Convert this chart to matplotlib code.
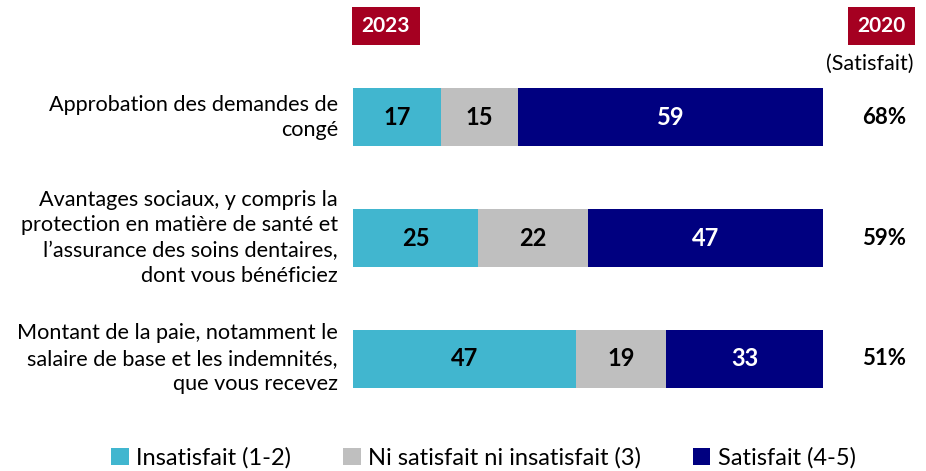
import matplotlib
matplotlib.use('Agg')
import matplotlib.pyplot as plt
from matplotlib.patches import Rectangle
import numpy as np

plt.rcParams['font.family'] = ['Lato', 'DejaVu Sans']

items = [
    'Approbation des demandes de\ncongé',
    'Avantages sociaux, y compris la\nprotection en matière de santé et\n'
    'l\u2019assurance des soins dentaires,\ndont vous bénéficiez',
    'Montant de la paie, notamment le\nsalaire de base et les indemnités,\n'
    'que vous recevez',
]
insatisfait = [17, 25, 47]
neutre = [15, 22, 19]
satisfait = [59, 47, 33]
satisfait_2020 = [68, 59, 51]
series_labels = ['Insatisfait (1-2)', 'Ni satisfait ni insatisfait (3)',
                 'Satisfait (4-5)']
colors = ['#41B6CF', '#BFBFBF', '#000080']
text_colors = ['black', 'black', 'white']

W, H = 926, 471
fig = plt.figure(figsize=(W / 100, H / 100), dpi=100)
ax = fig.add_axes([353 / W, (H - 419) / H, 470 / W, 362 / H])

values = np.array([insatisfait, neutre, satisfait], dtype=float)
totals = values.sum(axis=0)
shares = values / totals
y = np.arange(len(items))
left = np.zeros(len(items))
for k in range(3):
    ax.barh(y, shares[k], left=left, height=0.48, color=colors[k],
            label=series_labels[k])
    for i in range(len(items)):
        ax.text(left[i] + shares[k][i] / 2, y[i], f'{values[k][i]:.0f}',
                ha='center', va='center', fontsize=17, weight='bold',
                color=text_colors[k])
    left += shares[k]

ax.set_xlim(0, 1)
ax.set_ylim(2.5, -0.5)
ax.axis('off')

for i, label in enumerate(items):
    ax.text(-0.032, y[i], label, ha='right', va='center', fontsize=15.6,
            linespacing=1.33, transform=ax.transData)
    ax.text(1.13, y[i], f'{satisfait_2020[i]}%', ha='center', va='center',
            fontsize=16, weight='bold')

# year badges
for x0, x1, year in [(352, 420, '2023'), (848, 915, '2020')]:
    fig.patches.append(Rectangle((x0 / W, (H - 45) / H), (x1 - x0) / W,
                                 38 / H, transform=fig.transFigure,
                                 facecolor='#A50021', edgecolor='none'))
    fig.text((x0 + x1) / 2 / W, (H - 26) / H, year, ha='center',
             va='center', color='white', fontsize=15, weight='bold')
fig.text(870 / W, (H - 64) / H, '(Satisfait)', ha='center', va='center',
         fontsize=15.5)

fig.legend(loc='lower center', bbox_to_anchor=(0.522, -0.04), ncol=3,
           frameon=False, fontsize=17, handlelength=0.75, handleheight=0.75,
           handletextpad=0.3, columnspacing=2.2)

fig.savefig('out.png', dpi=100)
